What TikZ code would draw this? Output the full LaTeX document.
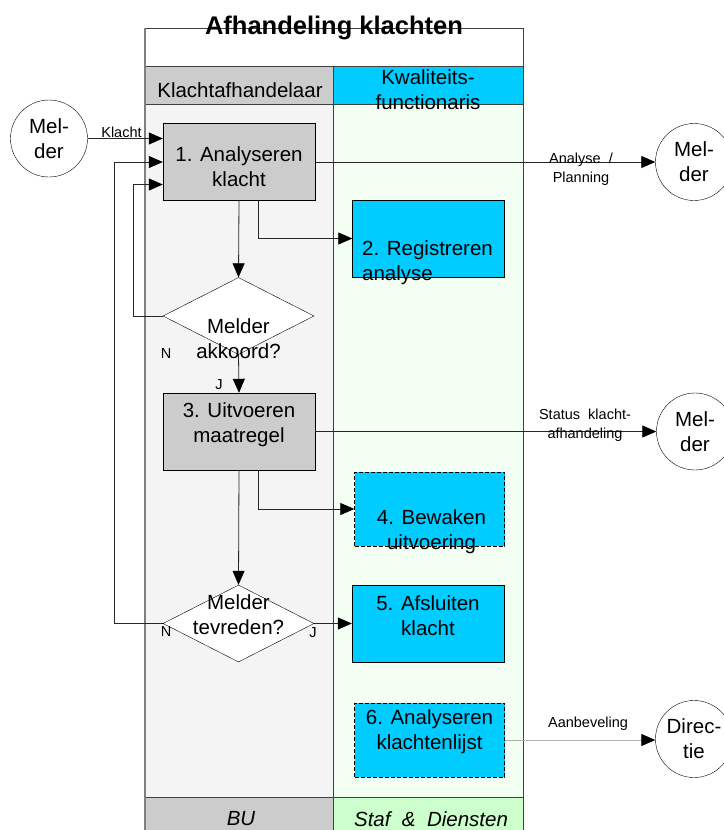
\documentclass[tikz,border=0pt]{standalone}
\usepackage{fontspec}
\setmainfont{Liberation Sans}
\usetikzlibrary{arrows.meta, positioning, shapes.geometric}

\definecolor{boxgrey}{HTML}{CCCCCC}
\definecolor{boxcyan}{HTML}{00CCFF}
\definecolor{lanegrey}{HTML}{F4F4F4}
\definecolor{lanegreen}{HTML}{F4FFF4}
\definecolor{footgreen}{HTML}{CCFFCC}
\definecolor{poolline}{HTML}{404040}
\definecolor{linegrey}{HTML}{B0B0B0}

\newcommand\bodysize{\fontsize{20.5}{25}\selectfont}

\begin{document}
\begin{tikzpicture}[x=1pt, y=-1pt,
		font=\bodysize,
		task/.style={draw, rectangle, minimum width=152pt, minimum height=77pt, inner sep=0pt},
		tgrey/.style={task, fill=boxgrey},
		tcyan/.style={task, fill=boxcyan},
		tcheck/.style={tcyan, dash pattern=on 4pt off 2pt, minimum width=150pt, minimum height=74pt},
		choice/.style={draw, diamond, fill=white, minimum width=151pt, minimum height=77pt, inner sep=0pt},
		actor/.style={draw, circle, fill=white, minimum size=77pt, inner sep=0pt, align=center},
		txt/.style={align=center, inner sep=0pt},
		lbl/.style={font=\fontsize{14.5}{19}\selectfont, inner sep=0pt, align=center},
		arrow/.style={-{Triangle[length=14pt, width=12pt, color=black]}, line width=0.8pt, draw=black!85}
		]
		\useasboundingbox (0,0) rectangle (723,830);
		
		% Pool and lanes
		\fill[lanegrey] (145,104) rectangle (333,797);
		\fill[lanegreen] (333,104) rectangle (523,797);
		\fill[boxgrey] (145,66) rectangle (333,104);
		\fill[boxcyan] (333,66) rectangle (523,104);
		\fill[boxgrey] (145,797) rectangle (333,830);
		\fill[footgreen] (333,797) rectangle (523,830);
		\draw[poolline, line width=1pt] (145,28) rectangle (523,830)
			(145,66) -- (523,66) (145,104) -- (523,104) (145,797) -- (523,797)
			(333,66) -- (333,830);
		\draw[gray, line width=1.5pt] (145,28) -- (145,830);
		
		\node[txt] (hdrA) at (240,90) {Klachtafhandelaar};
		\node[txt] (hdrB) at (428,90) {Kwaliteits-\\functionaris};
		\node[txt, font=\bodysize\itshape] (ftrA) at (241,819) {BU};
		\node[txt, font=\bodysize\itshape] (ftrB) at (431,819) {Staf \ \& \ Diensten};
		
		% Tasks and decisions
		\node[tgrey] (b1) at (239,162) {};
		\node[txt] (b1t) at (239,167) {1. Analyseren\\klacht};
		\node[tcyan] (b2) at (428.5,238.5) {};
		\node[txt, align=left, anchor=west] (b2t) at (362,263) {2. Registreren\\analyse};
		\node[choice] (d1) at (238.5,316) {};
		\node[txt] (d1t) at (238.5,339) {Melder\\akkoord?};
		\node[tgrey] (b3) at (239,431.5) {};
		\node[txt] (b3t) at (239,425) {3. Uitvoeren\\maatregel};
		\node[tcheck] (b4) at (429.5,509) {};
		\node[txt] (b4t) at (431.5,532) {4. Bewaken\\uitvoering};
		\node[choice] (d2) at (238.5,623.5) {};
		\node[txt] (d2t) at (238.5,615) {Melder\\tevreden?};
		\node[tcyan] (b5) at (428,623.5) {};
		\node[txt] (b5t) at (428,616) {5. Afsluiten\\klacht};
		\node[tcheck] (b6) at (429.5,740) {};
		\node[txt] (b6t) at (429.5,732) {6. Analyseren\\klachtenlijst};
		
		% Actors
		\node[actor] (m1) at (49,138.5) {Mel-\\der};
		\node[actor] (m2) at (694,162) {Mel-\\der};
		\node[actor] (m3) at (695,431.5) {Mel-\\der};
		\node[actor] (dir) at (694,739) {Direc-\\tie};
		
		% Flow
		\draw[arrow] (m1) -- (m1 -| b1.west) node[lbl, pos=0.45, above=0pt] (lklacht) {Klacht};
		\draw[arrow] (b1.south) -- (d1.north);
		\draw[arrow] ([xshift=19pt]b1.south) |- (b2.west);
		\draw[arrow] (d1.west) -- ++(-29,0) |- ([yshift=-22.5pt]b1.west);
		\draw[arrow] (d1.south) -- (b3.north);
		\draw[arrow] (b3.south) -- (d2.north);
		\draw[arrow] ([xshift=19pt]b3.south) |- (b4.west);
		\draw[arrow] (d2.east) -- (b5.west);
		\draw[arrow] (d2.west) -- ++(-48,0) |- (b1.west);
		
		% Outgoing
		\draw[arrow] (b1.east) -- (m2.west);
		\draw[arrow] (b3.east) -- (m3.west);
		\draw[arrow, draw=linegrey] (b6.east) -- (b6.east -| dir.west);
		
		% Labels
		\node[lbl] (lplan) at (581,169) {Analyse \ /\\Planning};
		\node[lbl] (lstat) at (585,425) {Status \ klacht-\\afhandeling};
		\node[lbl] (laanb) at (588,723.5) {Aanbeveling};
		\node[lbl] (n1) at (166,354) {N};
		\node[lbl] (j1) at (219,385) {J};
		\node[lbl] (n2) at (166,632) {N};
		\node[lbl] (j2) at (313,633) {J};
		
		\node[inner sep=0pt, font=\bfseries\fontsize{25.5}{30}\selectfont] (title) at (334,27.5) {Afhandeling klachten};
		
	\end{tikzpicture}
\end{document}
